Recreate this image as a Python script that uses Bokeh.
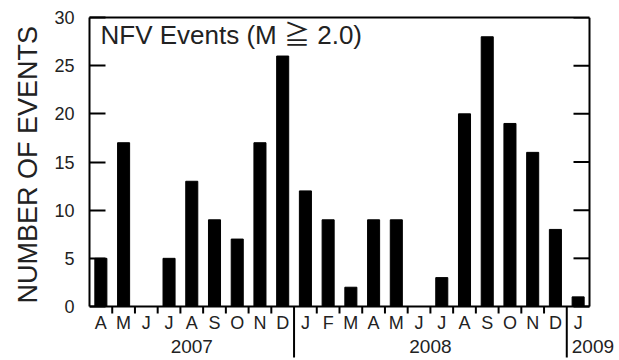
from bokeh.plotting import figure
from bokeh.models import LinearAxis, FixedTicker, Range1d, Title
from bokeh.core.properties import value
from bokeh.embed import file_html
from bokeh.resources import INLINE

# ---- data ----
months = ["A", "M", "J", "J", "A", "S", "O", "N", "D",
          "J", "F", "M", "A", "M", "J", "J", "A", "S", "O", "N", "D",
          "J"]
years = [2007] * 9 + [2008] * 12 + [2009]
counts = [5, 17, 0, 5, 13, 9, 7, 17, 26,
          12, 9, 2, 9, 9, 0, 3, 20, 28, 19, 16, 8,
          1]
y_ticks = [0, 5, 10, 15, 20, 25, 30]
title_text = "NFV Events (M \u2267 2.0)"
y_label = "NUMBER OF EVENTS"

FONT = "Liberation Sans"
TXT = "#222222"

# ---- geometry (pixels) ----
W, H = 619, 360
LEFT, TOP = 89, 17
PLOT_W, PLOT_H = 500, 289          # box of the chart area
YMAX = 30

n = len(months)
ppx = PLOT_W / n                   # pixels per month
ppy = PLOT_H / YMAX                # pixels per event
x_max = n + (W - LEFT - PLOT_W) / ppx
y_min = -(H - TOP - PLOT_H) / ppy

centers = [i + 0.5 for i in range(n)]
year_breaks = [i for i in range(1, n) if years[i] != years[i - 1]]
minor = [i for i in range(1, n) if i not in year_breaks]

p = figure(width=W, height=H, x_range=Range1d(0, x_max), y_range=Range1d(y_min, YMAX),
           output_backend="svg", toolbar_location=None,
           x_axis_type=None, y_axis_type=None,
           min_border_left=LEFT, min_border_right=0, min_border_top=TOP,
           min_border_bottom=0)
p.outline_line_color = None
p.background_fill_color = "white"
p.border_fill_color = "white"

p.vbar(x=centers, top=counts, width=0.53, color="black")

# left axis
left = LinearAxis(ticker=FixedTicker(ticks=y_ticks), bounds=(0, YMAX),
                  major_tick_in=16, major_tick_out=0,
                  minor_tick_in=0, minor_tick_out=0, axis_line_width=2,
                  major_tick_line_width=2, major_label_standoff=15,
                  major_label_text_font=FONT, major_label_text_font_size="18px",
                  major_label_text_color=TXT)
p.add_layout(left, "left")
# axis title, placed along the 0..30 box
p.add_layout(Title(text=y_label, align="left", offset=57,
                   text_font=FONT, text_font_size="27px", text_font_style="normal",
                   text_color=TXT, standoff=17), "left")

# top border
top = LinearAxis(ticker=FixedTicker(ticks=[]), bounds=(0, n), axis_line_width=2,
                 major_tick_in=0, major_tick_out=0, minor_tick_in=0, minor_tick_out=0,
                 major_label_text_font_size="0px", major_label_standoff=0)
p.add_layout(top, "above")

# right border with inward ticks
p.segment(x0=[n], y0=[0], x1=[n], y1=[YMAX], line_color="black", line_width=2)
p.segment(x0=[n] * len(y_ticks), y0=y_ticks, x1=[n - 16 / ppx] * len(y_ticks),
          y1=y_ticks, line_color="black", line_width=2)

# bottom border, month ticks, year separators
p.segment(x0=[0], y0=[0], x1=[n], y1=[0], line_color="black", line_width=2)
p.segment(x0=minor, y0=[0] * len(minor), x1=minor, y1=[-7 / ppy] * len(minor),
          line_color="black", line_width=2)
p.segment(x0=year_breaks, y0=[0] * len(year_breaks), x1=year_breaks,
          y1=[-51 / ppy] * len(year_breaks), line_color="black", line_width=2)

# month labels
p.text(x=centers, y=[-16.5 / ppy] * n, text=months, text_align="center",
       text_baseline="middle", text_font=value(FONT), text_font_size="18px",
       text_color=TXT)

# year labels
starts = [0] + year_breaks
ends = year_breaks + [n]
for s, e in zip(starts, ends):
    if e - s > 1:
        x, a, o = (s + e) / 2, "center", 0
    else:
        x, a, o = s, "left", 5
    p.text(x=[x], y=[-40 / ppy], text=[str(years[s])], text_align=a, x_offset=o,
           text_baseline="middle", text_font=value(FONT), text_font_size="19px",
           text_color=TXT)

# title inside the chart
p.text(x=[11 / ppx], y=[YMAX - 17 / ppy], text=[title_text], text_align="left",
       text_baseline="middle", text_font=value("'Liberation Sans', 'Noto Sans CJK JP'"),
       text_font_size="26px", text_color=TXT)

open("out.html", "w").write(file_html(p, INLINE))
